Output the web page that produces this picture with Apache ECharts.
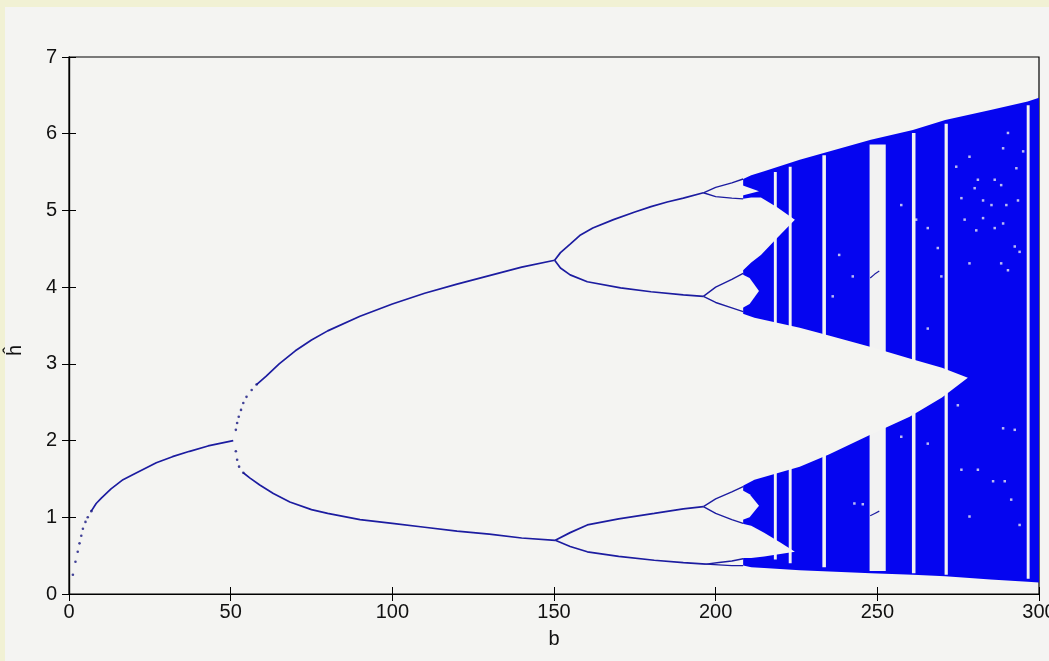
<!DOCTYPE html>
<html>
<head>
<meta charset="utf-8">
<script src="https://cdn.jsdelivr.net/npm/echarts@6/dist/echarts.min.js"></script>
<style>
html,body{margin:0;padding:0;background:#f4f4f2;}
#chart{width:1049px;height:661px;}
</style>
</head>
<body>
<div id="chart"></div>
<script>
// ---------- data ----------
const xTicks = [0, 50, 100, 150, 200, 250, 300];
const yTicks = [0, 1, 2, 3, 4, 5, 6, 7];

// period-1 branch (dotted start, then continuous)
const period1Dots = [[1.2,0.25],[2.0,0.42],[2.7,0.55],[3.25,0.66],[3.8,0.76],[4.3,0.85],[5.1,0.94],[5.8,1.0],[6.9,1.08]];
const period1 = [[6.9,1.08],[8.4,1.18],[10,1.25],[13,1.37],[16.7,1.49],[20,1.56],[27,1.71],[32,1.79],[37.3,1.86],[43,1.93],[50.8,2.0]];

// period-2 branches
const period2UpperDots = [[51.6,2.14],[52.0,2.23],[52.5,2.31],[53.2,2.40],[53.9,2.49],[54.9,2.57],[56.5,2.66],[58.0,2.73]];
const period2Upper = [[58,2.73],[61,2.84],[65,3.0],[70,3.17],[75,3.31],[80,3.43],[90,3.62],[100,3.78],[110,3.92],[120,4.04],[130,4.15],[140,4.26],[150.2,4.35]];
const period2LowerDots = [[51.6,1.86],[52.0,1.75],[52.6,1.66],[53.9,1.58]];
const period2Lower = [[53.9,1.58],[56,1.51],[59,1.42],[63.2,1.31],[68.3,1.2],[75,1.1],[80,1.05],[90,0.97],[100,0.92],[110,0.87],[120,0.82],[130,0.78],[140,0.73],[150.4,0.7]];

// period-4 branches
const period4UU = [[150.2,4.35],[152,4.45],[155,4.56],[158.2,4.68],[162,4.77],[168.4,4.88],[175,4.98],[180,5.05],[185,5.11],[190,5.16],[196.2,5.23]];
const period4UL = [[150.2,4.35],[152,4.25],[155,4.16],[160.3,4.07],[170.6,3.99],[180,3.94],[190,3.9],[196.2,3.88]];
const period4LU = [[150.4,0.7],[155,0.8],[160.3,0.9],[170,0.98],[181,1.05],[190,1.11],[196.2,1.14]];
const period4LL = [[150.4,0.7],[155,0.62],[160.3,0.55],[170,0.49],[181,0.44],[190,0.41],[197,0.39]];

// period-8 branches
const period8UUa = [[196.2,5.23],[200,5.3],[205,5.36],[208.5,5.41]];
const period8UUb = [[196.2,5.23],[200,5.18],[205,5.16],[208.5,5.15]];
const period8ULa = [[196.2,3.88],[200,4.0],[205,4.1],[208.5,4.18]];
const period8ULb = [[196.2,3.88],[200,3.8],[205,3.73],[208.5,3.68]];
const period8LUa = [[196.2,1.14],[200,1.24],[205,1.33],[208.5,1.40]];
const period8LUb = [[196.2,1.14],[200,1.05],[205,0.97],[208.5,0.92]];
const period8LLa = [[197,0.39],[201,0.41],[205,0.43],[208.5,0.46]];
const period8LLb = [[197,0.39],[201,0.38],[205,0.37],[208.5,0.37]];

// chaotic region: [b, lower edge, upper edge]
const chaosEnvelope = [[208.5,0.37,5.41],[211,0.35,5.46],[215,0.34,5.51],[226,0.31,5.66],[248,0.27,5.92],[261,0.25,6.05],[271,0.23,6.18],[285,0.19,6.31],[296.5,0.16,6.42],[300,0.15,6.47]];
// empty wedge between the two chaotic halves
const centralGap = [[208,1.40,3.66],[212,1.49,3.6],[226,1.66,3.47],[235,1.82,3.37],[248,2.08,3.22],[260,2.31,3.07],[270,2.56,2.95],[278,2.82,2.82]];
// band-merging gaps before b ≈ 224
const upperGap = [[208,4.2,5.15],[211,4.32,5.17],[214,4.42,5.17],[219,4.64,5.04],[224.5,4.88,4.88]];
const lowerGap = [[208,0.47,0.92],[211,0.47,0.89],[215,0.49,0.80],[220,0.52,0.67],[224.5,0.55,0.55]];
const notchA = [[208,5.19,5.33],[213.4,5.25,5.25]];
const notchB = [[208,3.72,4.17],[210.5,3.78,4.12],[213.4,3.95,3.95]];
const notchC = [[208,0.96,1.36],[210.5,1.0,1.3],[213.4,1.15,1.15]];

// periodic windows: [b start, b end, h low, h high]
const windows = [[218.0,218.9,0.45,5.5],[222.6,223.5,0.40,5.57],[233.0,234.1,0.35,5.72],[247.6,252.6,0.30,5.86],[260.7,261.8,0.27,6.01],[270.8,271.8,0.25,6.13],[296.2,297.1,0.20,6.37]];
// orbit traces inside the wide window
const windowOrbitUpper = [[247.8,4.12],[249.2,4.17],[250.6,4.21]];
const windowOrbitLower = [[247.8,1.02],[249.2,1.05],[250.6,1.08]];
// isolated empty points inside the chaotic sea
const holes = [[290.4,6.01],[288.9,5.81],[295.1,5.77],[278.5,5.70],[274.4,5.57],[293.0,5.55],[281.1,5.40],[286.3,5.40],[288.3,5.33],[280.1,5.29],
  [276.0,5.16],[282.7,5.13],[285.3,5.07],[289.9,5.07],[293.5,5.13],[277.0,4.88],[282.7,4.90],[288.9,4.83],[286.3,4.77],[280.6,4.74],
  [292.5,4.53],[294.0,4.46],[288.3,4.31],[290.4,4.22],[278.5,4.31],[265.6,4.77],[268.7,4.51],[269.8,4.14],[257.4,5.07],[262.0,4.88],
  [265.6,3.46],[274.9,2.46],[276.0,1.62],[281.1,1.62],[285.8,1.47],[289.4,1.47],[288.9,2.16],[292.5,2.14],[278.5,1.01],[294.0,0.90],
  [291.4,1.23],[242.4,4.14],[236.2,3.88],[238.2,4.42],[242.9,1.18],[245.5,1.17],[257.4,2.05],[265.6,1.96]];

// ---------- chart ----------
const BG = '#f4f4f2';
const LINE = '#1c1ca0';
const FILL = '#0505f0';
const FONT = 'Liberation Sans';

function bandSeries(rows, color, z) {
  return {
    type: 'custom', coordinateSystem: 'cartesian2d', silent: true, z: z, clip: true,
    data: rows, encode: { x: 0, y: [1, 2] },
    renderItem: function (params, api) {
      if (params.dataIndex !== 0) return null;
      const pts = [];
      for (let i = 0; i < rows.length; i++) pts.push(api.coord([rows[i][0], rows[i][2]]));
      for (let i = rows.length - 1; i >= 0; i--) pts.push(api.coord([rows[i][0], rows[i][1]]));
      return { type: 'polygon', shape: { points: pts }, style: { fill: color } };
    }
  };
}
function lineSeries(rows, width) {
  return { type: 'line', data: rows, showSymbol: false, silent: true, z: 10,
    lineStyle: { color: LINE, width: width || 1.7 }, itemStyle: { color: LINE } };
}
function dotSeries(rows) {
  return { type: 'scatter', data: rows, symbolSize: 2.6, silent: true, z: 10,
    itemStyle: { color: '#141480' } };
}

const axisCommon = {
  axisLine: { show: true, lineStyle: { color: '#000', width: 1.2 } },
  axisTick: { show: true, inside: true, length: 7, lineStyle: { color: '#000', width: 1 } },
  splitLine: { show: false }
};

const chart = echarts.init(document.getElementById('chart'), null, { renderer: 'canvas' });
chart.setOption({
  backgroundColor: BG,
  animation: false,
  graphic: [
    { type: 'rect', left: 0, top: 0, shape: { width: 1049, height: 7 }, style: { fill: '#f1f1d4' }, silent: true },
    { type: 'rect', left: 0, top: 0, shape: { width: 5, height: 661 }, style: { fill: '#f1f1d4' }, silent: true }
  ],
  grid: { left: 69, right: 10, top: 57, bottom: 67, containLabel: false, outerBoundsMode: 'none',
    show: true, borderColor: '#000', borderWidth: 1.2, backgroundColor: BG },
  xAxis: [
    Object.assign({
      type: 'value', min: 0, max: 300, interval: 50, position: 'bottom',
      name: 'b', nameLocation: 'middle', nameGap: 35,
      nameTextStyle: { fontFamily: FONT, fontSize: 20, color: '#111' },
      axisLabel: { fontFamily: FONT, fontSize: 20, color: '#111', margin: 8, formatter: v => xTicks.includes(v) ? String(v) : '' }
    }, axisCommon),
    Object.assign({ type: 'value', min: 0, max: 300, interval: 50, position: 'top', axisLabel: { show: false } }, axisCommon)
  ],
  yAxis: [
    Object.assign({
      type: 'value', min: 0, max: 7, interval: 1, position: 'left',
      name: 'ĥ', nameLocation: 'middle', nameGap: 44, nameRotate: 90,
      nameTextStyle: { fontFamily: FONT, fontSize: 20, color: '#111', padding: [0, 50, 0, 0] },
      axisLabel: { fontFamily: FONT, fontSize: 20, color: '#111', margin: 12, formatter: v => yTicks.includes(v) ? String(v) : '' }
    }, axisCommon),
    Object.assign({ type: 'value', min: 0, max: 7, interval: 1, position: 'right', axisLabel: { show: false } }, axisCommon)
  ],
  series: [
    bandSeries(chaosEnvelope, FILL, 2),
    {
      type: 'custom', coordinateSystem: 'cartesian2d', silent: true, z: 3, clip: true,
      data: windows, encode: { x: [0, 1], y: [2, 3] },
      renderItem: function (params, api) {
        const p0 = api.coord([api.value(0), api.value(3)]);
        const p1 = api.coord([api.value(1), api.value(2)]);
        return { type: 'rect', shape: { x: p0[0], y: p0[1], width: p1[0] - p0[0], height: p1[1] - p0[1] }, style: { fill: '#f2f2f2' } };
      }
    },
    bandSeries(centralGap, BG, 4),
    bandSeries(upperGap, BG, 4),
    bandSeries(lowerGap, BG, 4),
    bandSeries(notchA, BG, 4),
    bandSeries(notchB, BG, 4),
    bandSeries(notchC, BG, 4),
    { type: 'scatter', data: holes, symbolSize: 2.5, symbol: 'rect', silent: true, z: 5, itemStyle: { color: '#e8e8f4' } },
    lineSeries(windowOrbitUpper, 1.2),
    lineSeries(windowOrbitLower, 1.2),
    dotSeries(period1Dots),
    lineSeries(period1),
    dotSeries(period2UpperDots),
    lineSeries(period2Upper),
    dotSeries(period2LowerDots),
    lineSeries(period2Lower),
    lineSeries(period4UU), lineSeries(period4UL), lineSeries(period4LU), lineSeries(period4LL),
    lineSeries(period8UUa, 1.4), lineSeries(period8UUb, 1.4), lineSeries(period8ULa, 1.4), lineSeries(period8ULb, 1.4),
    lineSeries(period8LUa, 1.4), lineSeries(period8LUb, 1.4), lineSeries(period8LLa, 1.4), lineSeries(period8LLb, 1.4)
  ]
});
</script>
</body>
</html>
